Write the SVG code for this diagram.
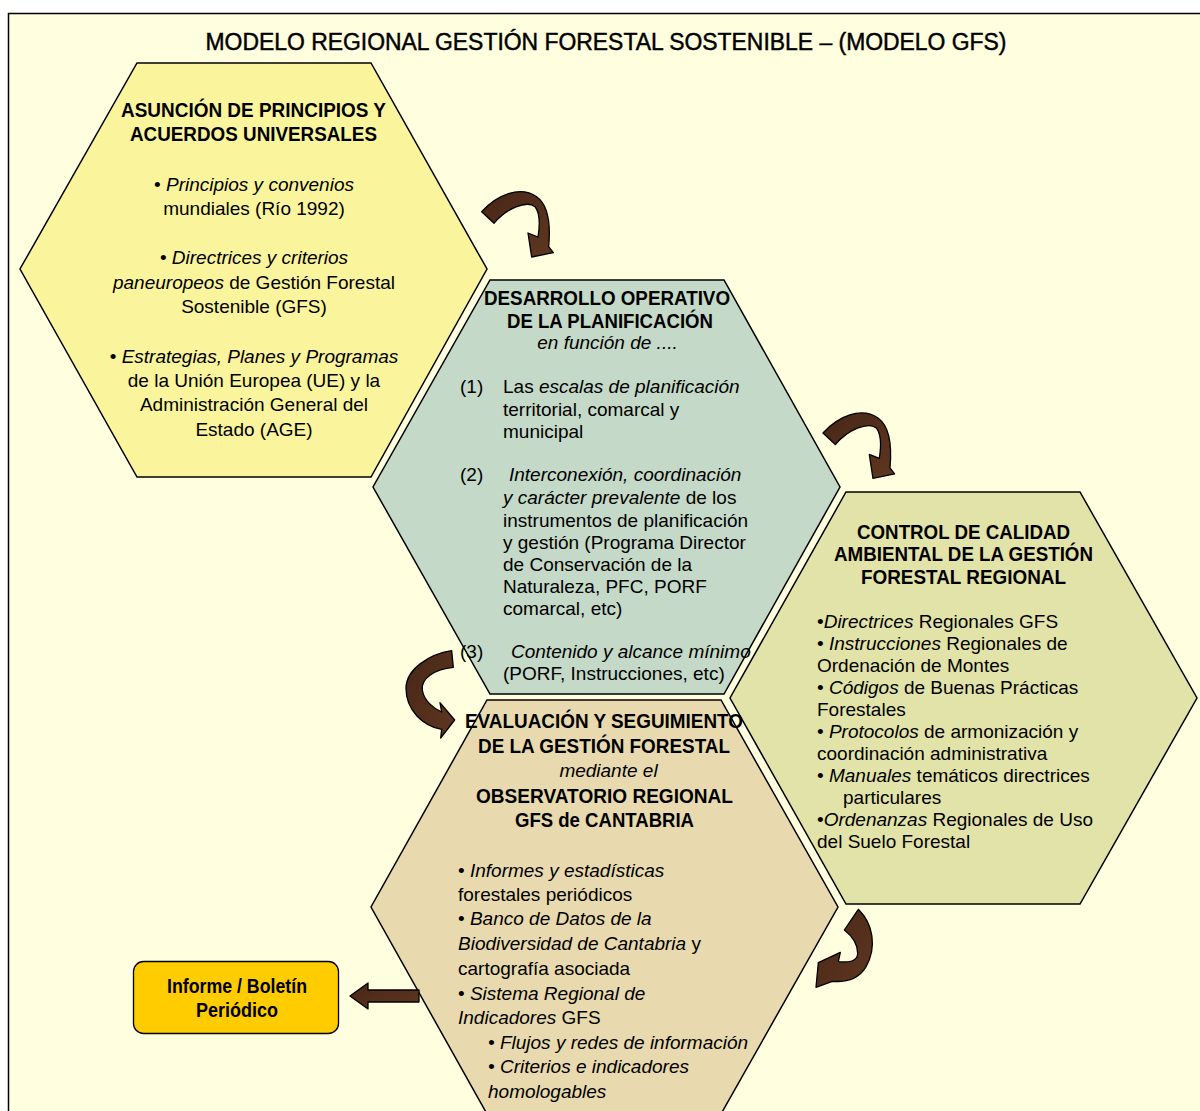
<svg xmlns="http://www.w3.org/2000/svg" width="1200" height="1111" viewBox="0 0 1200 1111">
<defs>
<style>
.bg{fill:#FFFEDE;stroke:#000;stroke-width:1.5}
.hex{stroke:#000;stroke-width:1.5;stroke-linejoin:miter}
.arw{fill:url(#brown);stroke:#000;stroke-width:1.3;stroke-linejoin:round}
text{font-family:"Liberation Sans",Arial,sans-serif;fill:#000}
.ttl{font-size:23px;text-anchor:middle;stroke:#000;stroke-width:0.45}
.hd{font-size:20px;font-weight:bold;text-anchor:middle}
.b{font-size:19px}
.c{text-anchor:middle}
.i{font-style:italic}
</style>
<linearGradient id="brown" x1="0" y1="0" x2="1" y2="1">
<stop offset="0" stop-color="#472617"/>
<stop offset="1" stop-color="#5F3720"/>
</linearGradient>
</defs>
<rect x="0" y="0" width="1200" height="1111" fill="#FFFFFF"/>
<rect class="bg" x="8.5" y="13.5" width="1200" height="1120"/>
<text class="ttl" x="606" y="50" textLength="801" lengthAdjust="spacingAndGlyphs">MODELO REGIONAL GESTIÓN FORESTAL SOSTENIBLE – (MODELO GFS)</text>

<g id="hex-asuncion">
<polygon class="hex" fill="#FAF59C" points="137,63 371,63 487,269 371,477 137,477 20,269"/>
<text class="hd" x="253.5" y="117" textLength="265" lengthAdjust="spacingAndGlyphs">ASUNCIÓN DE PRINCIPIOS Y</text>
<text class="hd" x="253.5" y="141" textLength="247" lengthAdjust="spacingAndGlyphs">ACUERDOS UNIVERSALES</text>
<text class="b c" x="254" y="191">• <tspan class="i">Principios y convenios</tspan></text>
<text class="b c" x="254" y="215">mundiales (Río 1992)</text>
<text class="b c" x="254" y="264">• <tspan class="i">Directrices y criterios</tspan></text>
<text class="b c" x="254" y="289"><tspan class="i">paneuropeos</tspan> de Gestión Forestal</text>
<text class="b c" x="254" y="313">Sostenible (GFS)</text>
<text class="b c" x="254" y="363">• <tspan class="i">Estrategias, Planes y Programas</tspan></text>
<text class="b c" x="254" y="387">de la Unión Europea (UE) y la</text>
<text class="b c" x="254" y="411">Administración General del</text>
<text class="b c" x="254" y="436">Estado (AGE)</text>
</g>

<g id="hex-desarrollo">
<polygon class="hex" fill="#C4D9C7" points="490,280 724,280 840,487 724,694 490,694 373,487"/>
<text class="hd" x="607" y="305" textLength="246" lengthAdjust="spacingAndGlyphs">DESARROLLO OPERATIVO</text>
<text class="hd" x="610" y="328" textLength="206" lengthAdjust="spacingAndGlyphs">DE LA PLANIFICACIÓN</text>
<text class="b c i" x="607.5" y="349">en función de ....</text>
<text class="b" x="460" y="393">(1)</text>
<text class="b" x="503" y="393">Las <tspan class="i">escalas de planificación</tspan></text>
<text class="b" x="503" y="416">territorial, comarcal y</text>
<text class="b" x="503" y="438">municipal</text>
<text class="b" x="460" y="481">(2)</text>
<text class="b i" x="509" y="481">Interconexión, coordinación</text>
<text class="b" x="503" y="504"><tspan class="i">y  carácter prevalente</tspan> de los</text>
<text class="b" x="503" y="527">instrumentos de planificación</text>
<text class="b" x="503" y="549">y gestión (Programa Director</text>
<text class="b" x="503" y="571">de Conservación de la</text>
<text class="b" x="503" y="593">Naturaleza, PFC, PORF</text>
<text class="b" x="503" y="615">comarcal, etc)</text>
<text class="b" x="460" y="658">(3)</text>
<text class="b i" x="511" y="658">Contenido y alcance mínimo</text>
<text class="b" x="503" y="680">(PORF, Instrucciones, etc)</text>
</g>

<g id="hex-control">
<polygon class="hex" fill="#E2E3A8" points="846,492 1080,492 1197,698 1080,904 846,904 730,698"/>
<text class="hd" x="963.5" y="539" textLength="213" lengthAdjust="spacingAndGlyphs">CONTROL DE CALIDAD</text>
<text class="hd" x="963.5" y="561" textLength="259" lengthAdjust="spacingAndGlyphs">AMBIENTAL DE LA GESTIÓN</text>
<text class="hd" x="963.5" y="584" textLength="205" lengthAdjust="spacingAndGlyphs">FORESTAL REGIONAL</text>
<text class="b" x="817" y="628">•<tspan class="i">Directrices</tspan> Regionales GFS</text>
<text class="b" x="817" y="650">• <tspan class="i">Instrucciones</tspan> Regionales de</text>
<text class="b" x="817" y="672">Ordenación de Montes</text>
<text class="b" x="817" y="694">• <tspan class="i">Códigos</tspan> de Buenas Prácticas</text>
<text class="b" x="817" y="716">Forestales</text>
<text class="b" x="817" y="738">• <tspan class="i">Protocolos</tspan> de armonización y</text>
<text class="b" x="817" y="760">coordinación administrativa</text>
<text class="b" x="817" y="782">• <tspan class="i">Manuales</tspan> temáticos directrices</text>
<text class="b" x="843" y="804">particulares</text>
<text class="b" x="817" y="826">•<tspan class="i">Ordenanzas</tspan> Regionales de Uso</text>
<text class="b" x="817" y="848">del Suelo Forestal</text>
</g>

<g id="hex-evaluacion">
<polygon class="hex" fill="#E8DAAE" points="487,700 721,700 838,907 721,1114 487,1114 371,907"/>
<text class="hd" x="604" y="728" textLength="278" lengthAdjust="spacingAndGlyphs">EVALUACIÓN Y SEGUIMIENTO</text>
<text class="hd" x="604" y="753" textLength="252" lengthAdjust="spacingAndGlyphs">DE LA GESTIÓN FORESTAL</text>
<text class="b c i" x="608.5" y="777">mediante el</text>
<text class="hd" x="604.5" y="803" textLength="257" lengthAdjust="spacingAndGlyphs">OBSERVATORIO REGIONAL</text>
<text class="hd" x="604.5" y="827" textLength="179" lengthAdjust="spacingAndGlyphs">GFS de CANTABRIA</text>
<text class="b" x="458" y="877">• <tspan class="i">Informes y estadísticas</tspan></text>
<text class="b" x="458" y="901">forestales periódicos</text>
<text class="b" x="458" y="925">• <tspan class="i">Banco de Datos de la</tspan></text>
<text class="b" x="458" y="950"><tspan class="i">Biodiversidad de Cantabria</tspan> y</text>
<text class="b" x="458" y="975">cartografía asociada</text>
<text class="b" x="458" y="1000">•  <tspan class="i">Sistema Regional de</tspan></text>
<text class="b" x="458" y="1024"><tspan class="i">Indicadores</tspan> GFS</text>
<text class="b i" x="488" y="1049">• Flujos y redes de información</text>
<text class="b i" x="488" y="1073">• Criterios e indicadores</text>
<text class="b i" x="488" y="1098">homologables</text>
</g>

<g id="box-informe">
<rect x="133.5" y="961.5" width="205" height="72" rx="10" fill="#FFCC00" stroke="#000" stroke-width="1.3"/>
<text class="hd" x="237" y="993" textLength="140" lengthAdjust="spacingAndGlyphs">Informe / Boletín</text>
<text class="hd" x="237" y="1017" textLength="82" lengthAdjust="spacingAndGlyphs">Periódico</text>
</g>

<g id="connectors">
<path class="arw" vector-effect="non-scaling-stroke" transform="translate(470,175) scale(0.3333)" d="M35,110 C80,60 150,30 200,65 C235,90 242,150 236,215 L250,233 L185,246 L174,174 L204,186 C210,150 210,115 195,95 C170,75 110,100 72,145 Z"/>
<path class="arw" vector-effect="non-scaling-stroke" transform="translate(811.3,396.3) scale(0.3333)" d="M35,110 C80,60 150,30 200,65 C235,90 242,150 236,215 L250,233 L185,246 L174,174 L204,186 C210,150 210,115 195,95 C170,75 110,100 72,145 Z"/>
<path class="arw" vector-effect="non-scaling-stroke" transform="translate(380,630) scale(0.3333)" d="M215,62 L220,112 C165,117 122,145 127,180 C132,212 160,235 185,246 L180,218 L224,270 L182,324 L185,298 C128,288 78,240 78,175 C78,118 148,72 215,62 Z"/>
<path class="arw" vector-effect="non-scaling-stroke" transform="translate(805,900) scale(0.3333)" d="M160,28 C203,70 218,140 182,202 C160,237 120,247 82,244 L33,262 L40,188 L106,157 L100,185 C130,188 158,185 158,160 C158,130 140,107 118,90 Z"/>
<polygon class="arw" points="350,996 368,983 368,990 419,990 419,1002 368,1002 368,1009"/>
</g>
</svg>
